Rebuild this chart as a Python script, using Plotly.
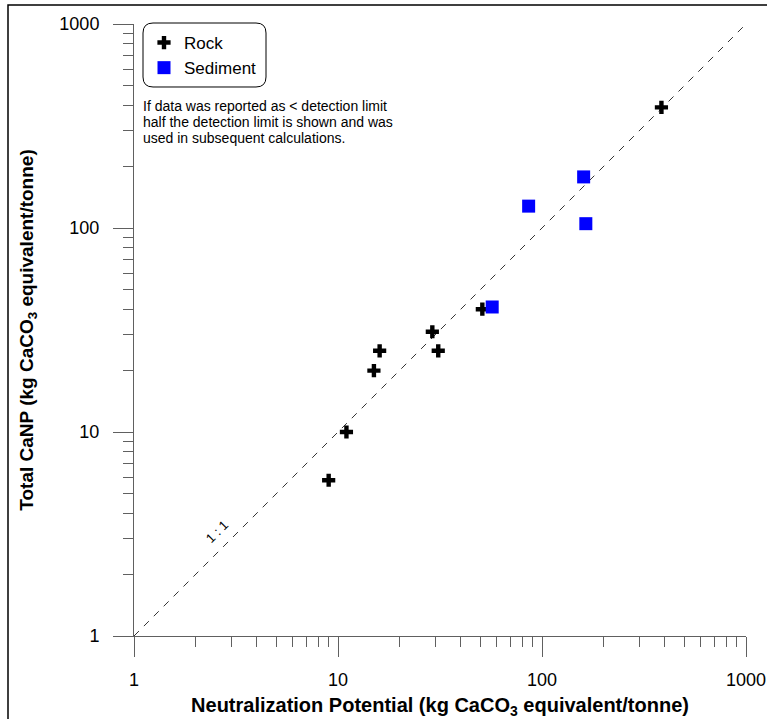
import plotly.graph_objects as go

# ---- data ----
rock_np = [9, 11, 15, 16, 29, 31, 51, 385]
rock_canp = [5.8, 10, 20, 25, 31, 25, 40, 390]
sed_np = [57, 86, 160, 164]
sed_canp = [41, 128, 178, 105]
line_x = [1, 1000]
line_y = [1, 1000]
major_ticks = [1, 10, 100, 1000]
tick_text = ["1", "10", "100", "1000"]
minor_ticks = [m * d for d in (1, 10, 100) for m in range(2, 10)]
note_lines = ["If data was reported as &lt; detection limit",
              "half the detection limit is shown and was",
              "used in subsequent calculations."]

W, H = 767, 719
L, R, T, B = 134, 746, 24, 636
PW, PH = R - L, B - T


def px(x):
    return (x - L) / PW


def py(y):
    return (B - y) / PH


FONT = "Liberation Sans, Arial, sans-serif"
AXC = "#606060"

fig = go.Figure()
fig.add_trace(go.Scatter(
    x=line_x, y=line_y, mode="lines", showlegend=False,
    line=dict(color="#333333", width=1, dash="7px,7px"), hoverinfo="skip"))
fig.add_trace(go.Scatter(
    x=rock_np, y=rock_canp, mode="markers", name="Rock",
    marker=dict(symbol="cross", size=11, color="black", line=dict(width=0))))
fig.add_trace(go.Scatter(
    x=sed_np, y=sed_canp, mode="markers", name="Sediment",
    marker=dict(symbol="square", size=13, color="#0000FF", line=dict(width=0))))

axis_common = dict(
    type="log", range=[0, 3], showgrid=False, zeroline=False, automargin=False,
    showline=True, linecolor=AXC, linewidth=1,
    ticks="outside", ticklen=20, tickwidth=1, tickcolor=AXC,
    tickmode="array", tickvals=major_ticks, ticktext=tick_text,
    tickfont=dict(family=FONT, size=18, color="black"),
    minor=dict(tickmode="array", tickvals=minor_ticks, ticks="outside",
               ticklen=10, tickwidth=1, tickcolor=AXC, showgrid=False),
)

fig.update_layout(
    width=W, height=H,
    margin=dict(l=L, r=W - R, t=T, b=H - B),
    paper_bgcolor="white", plot_bgcolor="white",
    font=dict(family=FONT, color="black"),
    xaxis=dict(**axis_common, ticklabelstandoff=7,
               title=dict(text="<b>Neutralization Potential (kg CaCO<sub>3</sub> equivalent/tonne)</b>",
                          font=dict(family=FONT, size=20), standoff=10)),
    yaxis=dict(**axis_common, ticklabelstandoff=10,
               title=dict(text="<b>Total CaNP (kg CaCO<sub>3</sub> equivalent/tonne)</b>",
                          font=dict(family=FONT, size=19), standoff=20)),
    legend=dict(x=px(144), y=py(25), xanchor="left", yanchor="top",
                bgcolor="rgba(0,0,0,0)", borderwidth=0,
                font=dict(family=FONT, size=17), itemwidth=30,
                tracegroupgap=0),
    showlegend=True,
)

# rounded legend box
x0, x1, y0, y1, r = 143, 266, 23, 87, 10


def P(a, b):
    return f"{px(a):.5f},{py(b):.5f}"


path = (f"M {P(x0 + r, y0)} L {P(x1 - r, y0)} Q {P(x1, y0)} {P(x1, y0 + r)} "
        f"L {P(x1, y1 - r)} Q {P(x1, y1)} {P(x1 - r, y1)} "
        f"L {P(x0 + r, y1)} Q {P(x0, y1)} {P(x0, y1 - r)} "
        f"L {P(x0, y0 + r)} Q {P(x0, y0)} {P(x0 + r, y0)} Z")
fig.add_shape(type="path", xref="paper", yref="paper", path=path,
              line=dict(color="black", width=1), fillcolor="rgba(0,0,0,0)")

# outer frame (cropped at right/bottom)
fig.add_shape(type="rect", xref="paper", yref="paper",
              x0=px(8), x1=px(800), y0=py(5), y1=py(760),
              line=dict(color="black", width=1.5), fillcolor="rgba(0,0,0,0)")

for i, line in enumerate(note_lines):
    fig.add_annotation(
        xref="paper", yref="paper", x=px(141), y=py(106 + 16 * i),
        xanchor="left", yanchor="middle", align="left", showarrow=False,
        text=line, font=dict(family=FONT, size=14, color="black"))

fig.add_annotation(
    xref="paper", yref="paper", x=px(200), y=py(548), showarrow=False,
    text="1 : 1", textangle=-45, font=dict(family=FONT, size=13, color="black"))

fig.write_html("out.html")
